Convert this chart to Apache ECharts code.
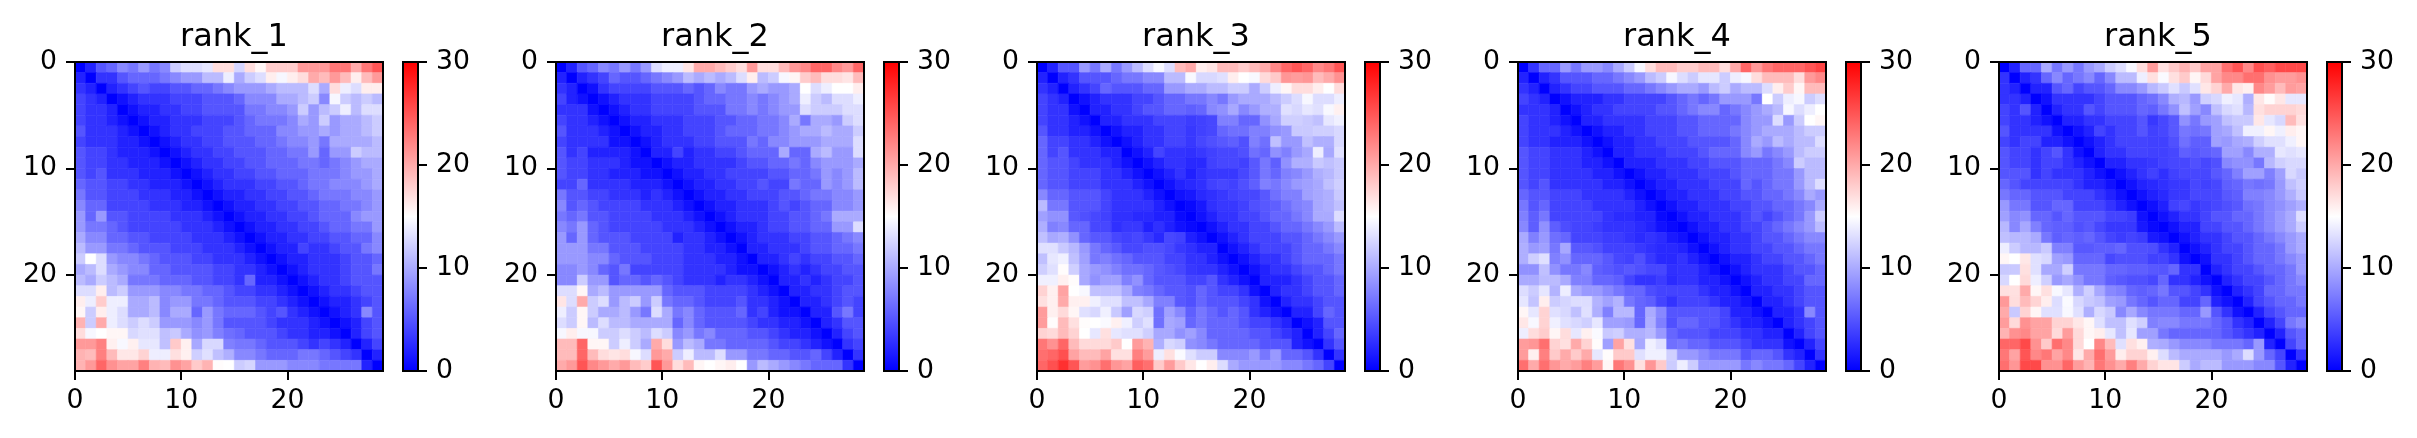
<!DOCTYPE html>
<html>
<head>
<meta charset="utf-8">
<script src="https://cdn.jsdelivr.net/npm/echarts@6/dist/echarts.min.js"></script>
<style>
  html, body { margin: 0; padding: 0; background: #fff; }
  #main { width: 2417px; height: 438px; }
</style>
</head>
<body>
<div id="main"></div>
<script>
// panel titles and ticks
var titles = ['rank_1', 'rank_2', 'rank_3', 'rank_4', 'rank_5'];
var axisTicks = [0, 10, 20];
var barTicks = [0, 10, 20, 30];
var cmin = 0, cmax = 30;
var cmapColors = ['#0000ff', '#ffffff', '#ff0000']; // bwr

// 29 x 29 matrices, row = y (top to bottom), column = x
var rank1 = [
  [0,2,5,6,8,7,9,7,8,12,13,13,13.5,17,17,12.5,17,15.5,18,18,18,21,21,21,23,23,20,23,25],
  [2,0,3,3,5,6,6,6,7,8,9,9,11,11,14,10,12,13,16,14.5,16,17,20,19,21,19,16,19,21],
  [3,2,0,2,3,4,5,4,4,5,5,6,6,7,8,9,9,9,10,11,11,11,13,10,17,14,13,16,16],
  [4,3,2,0,1,2,3,3,3,4,4,4,5,5,5,6,8,8,8,10,10,11,12,8,14.5,12,11,12,11],
  [4,3,3,2,0,1,2,2,3,3,4,4,5,5,5,5,7,7,8,8,9,12,9,11,12,14,11,13,13],
  [4,3,3,2,1,0,1,2,2,3,3,3,4,4,4,5,6,7,7,7,8,10,9,12,9,10,10,11,12],
  [5,3,3,3,2,1,0,1,2,3,3,4,4,4,5,5,6,6,6,8,8,9,9,10,9,10,10,11,12],
  [4,3,3,3,2,2,1,0,1,2,3,3,4,4,5,5,5,6,6,7,8,8,9,7,10,10,10,10,11],
  [5,4,4,3,2,2,2,1,0,1,2,3,3,4,4,5,5,5,6,6,7,7,9,6,9,9,12,11,11],
  [5,4,4,3,3,2,2,2,1,0,1,2,3,3,4,4,5,5,6,6,6,7,7,6,7,8,9,10,10],
  [5,4,5,3,3,3,2,2,2,1,0,1,2,3,3,4,4,5,5,6,6,6,7,7,7,8,9,9,10],
  [6,5,5,4,4,3,3,2,2,2,1,0,1,2,3,3,3,4,4,5,5,6,7,7,8,8,8,9,10],
  [7,5,5,4,4,4,3,3,3,2,2,1,0,1,2,2,3,3,4,4,5,5,6,7,7,7,8,8,9],
  [8,6,6,4,4,4,4,3,3,3,2,2,1,0,1,2,2,3,3,4,4,5,5,6,6,7,7,8,9],
  [9,6,9,5,5,4,4,4,4,3,3,3,2,1,0,1,2,2,3,3,4,4,5,6,6,6,8,9,9],
  [9,7,7,6,5,4,4,4,4,4,3,3,3,2,1,0,1,2,2,3,3,4,4,5,6,6,7,7,9],
  [10,8,8,6,6,5,5,4,4,4,4,3,3,3,2,1,0,1,2,2,3,3,4,4,5,5,6,6,8],
  [11,9,9,7,7,6,5,5,5,4,4,4,3,3,3,2,1,0,1,2,2,4,3,3,4,5,5,7,8],
  [12,15,13,9,8,8,7,6,5,5,5,4,4,3,3,3,2,1,0,1,2,2,3,3,3,4,5,5,6],
  [10,11,13,10,9,8,8,6,6,5,5,5,5,4,4,3,3,2,1,0,1,2,3,3,3,4,5,5,7],
  [11,10,12,11,10,7,7,7,6,6,6,5,5,4,4,3,6,2,2,1,0,1,2,3,3,4,5,5,5],
  [13,13,16,11,12,9,9,9,8,8,7,7,6,6,5,4,4,3,3,2,1,0,1,2,3,3,4,5,5],
  [16,14,18,14,14,10,10,11,8,9,9,7,7,6,5,5,5,4,4,3,2,1,0,1,2,2,3,4,5],
  [15.5,12,16,14,13,10,10,11,8,10,10,6,9,7,6,6,6,5,4,5,3,2,1,0,1,2,3,8,5],
  [19.5,12,20,14,13,12,13,12,9,9,9,8,9,7,5,5,5,5,4,3,3,3,2,1,0,1,2,4,5],
  [17,14.5,15,15.5,15.5,12.7,13.2,13.2,11.3,11.8,10,8.5,9,7.5,6.5,6,5,5,5,4,3,3,2,2,1,0,2,4,5],
  [21,21,22.5,15.9,14.6,15.9,13.6,13.6,11.3,18.1,15.9,9.9,12.7,12.7,7.5,7,7,6,5,5,5,4,3,4,3,2,0,2,4],
  [19.5,19,22.5,19,16.4,16.4,17.6,14,14,16.8,15.9,12.2,13.2,11.3,10.3,8,8,7,6,6,6,7,7,6,5,4,3,0,2],
  [19.5,21,24,21.5,20.4,20.4,22.5,19.5,19,21.5,20.4,18.1,19.5,15.2,15,12,12.5,9,9,9,8,8,8,7,7,7,7,2,0]
];

var rank2 = [
  [0,2,5,6,8,7,9,7,9,13,14,14,16.5,20,20,19,18,17,21,17,17,19,21,22,24,24,22,21,24],
  [2,0,2,3,4,6,5,5,6,7,8,9,11,10,11,10,11,13,16,11,12,14.5,15.5,18,19,17,17,16.5,19],
  [3,2,0,1,3,4,4,4,4,5,5,5,6,5,6,8,7,7,9,10,9,9,10,15,13,14,15,15,16],
  [4,2,1,0,1,2,3,3,3,4,4,4,4,5,6,6,7,7,8,7,8,9,10,14,12,11,13,13,14],
  [3,3,3,1,0,1,2,3,3,4,4,4,4,5,5,5,7,7,8,7,8,9,9,13,12,12,12,13,13],
  [4,3,3,2,1,0,1,2,2,3,3,3,4,4,4,5,5,6,6,7,7,8,10,7,10,10,9,12,13],
  [5,3,3,3,2,1,0,1,2,2,3,3,4,4,4,5,6,6,6,7,7,8,9,10,10,11,10,10,12],
  [4,3,3,3,3,1,1,0,1,2,3,3,3,4,4,5,5,5,7,6,8,8,9,9,9,10,10,10,13],
  [5,3,4,2,2,2,2,1,0,2,2,4,2,3,3,4,4,5,6,6,6,10,6,6,10,11,9,9,13],
  [5,4,4,3,3,3,2,1,1,0,1,2,2,3,3,3,3,4,5,5,6,6,7,6,8,9,9,9,10],
  [5,4,4,3,3,2,2,2,1,1,0,1,2,2,3,3,4,4,4,4,5,5,6,6,7,9,8,9,11],
  [4,4,6,3,3,3,3,2,2,2,1,0,1,2,2,3,3,4,4,5,4,4,7,6,6,9,8,9,11],
  [7,5,5,4,4,3,3,3,2,3,2,1,0,1,2,2,3,3,4,4,4,5,5,6,7,7,8,8,9],
  [8,5,6,5,4,4,4,4,3,3,3,2,1,0,1,2,2,3,3,3,4,5,4,5,6,6,8,8,9],
  [7,6,7,5,5,4,4,4,4,3,3,3,2,1,0,1,2,3,3,3,4,4,5,5,6,7,10,10,10],
  [8,7,9,6,5,4,4,4,4,4,3,3,3,2,1,0,1,2,2,3,4,4,5,5,6,6,9,9,13],
  [9,6,9,6,5,5,5,4,4,4,4,2,3,3,2,1,0,1,2,3,3,3,4,4,5,5,6,7,8],
  [9,9,9,7,7,5,5,5,4,4,4,4,3,3,2,2,1,0,2,2,3,3,3,4,5,5,6,6,7],
  [9,9,9,8,8,6,5,5,5,4,4,4,3,3,3,2,2,1,0,2,2,3,4,3,4,4,5,5,6],
  [8,8,9,8,6,5,7,4,4,4,4,4,3,3,3,3,2,1,1,0,1,2,3,2,3,4,4,5,5],
  [8,8,12,9,9,5,6,6,5,6,5,4,3,3,3,2,3,3,2,1,0,2,2,3,2,3,4,4,5],
  [13,13,15.5,10,11,9,9,9,9,9,6,5,5,5,4,4,4,4,3,2,1,0,2,2,3,3,4,5,5],
  [16.5,13,20,12,13,9,11,12,9,12,7,6,6,5,4,4,4,5,3,3,2,1,0,2,2,3,4,5,4],
  [14,12,15.5,12,10,10,11,9,7,13,10,7,8,6,5,5,5,6,3,4,2,1,1,0,2,2,5,7,4],
  [13,12,15.5,11,13,11,11,10,10,10,10,6,8,6,5,5,5,5,4,3,3,2,2,1,0,2,3,5,5],
  [14.5,16,14.5,14.5,12,12,13,12,11,13,12,8,9,7,8,6,6,6,5,5,4,3,2,2,1,0,2,4,5],
  [19,19,24,15.5,15.5,12,14,12,10,20,17,9,11,10,7,7,6,6,6,6,5,4,4,3,2,1,0,3,4],
  [19,19,24,19,17,16.5,17,14.5,13,21,20,12,14,11,11,13,9,9,7,7,6,6,5,5,6,4,2,0,3],
  [20,21,25,22,21,20,21,19,18,25,21,17,19,15.5,15,15.5,16,15,9,11,10,9,8,7,6,6,6,3,0]
];

var rank3 = [
  [0,2,5,5,9,7,10,7,9,11,13,14.5,13,19,20,16,16.5,19,19,18,19,20,22,24,25,24,22,23,25],
  [2,0,2,3,5,5,5,6,7,7,8,8,11,11,14.6,12.7,12.7,13.2,16,15,14.6,17.2,18.1,21.2,20.8,21.2,19,20,21.5],
  [3,2,0,2,3,4,6,5,5,5,6,6,9,9,10,10,11,11,12,12,10,12,14,15.5,17,17,16,15,17],
  [4,3,2,0,1,2,3,3,3,4,4,5,6,6,7,7,8,7,9,10,10,10,11,12,13,14.5,13,13,14],
  [4,3,3,1,0,2,2,3,3,4,5,5,6,6,5.6,6,8,8.5,9.9,8,9,10.3,10.3,13.2,12.7,13.6,13.2,14.6,15.9],
  [4,3,3,2,1,0,2,2,3,3,3,4,4,4,3.5,3.8,4.2,7.5,7.5,6,6,8.5,9.9,12.2,12.2,11.8,11.3,13.6,14.1],
  [5,3,3,2,2,1,0,1,2,2,3,3,4,4,3.3,3.8,4.2,6,6.6,6.6,7.5,7.5,8.5,9,11.8,11.8,12.2,12.2,12.7],
  [6,4,4,3,3,2,1,0,1,2,3,3,4,4,3.3,4.2,4.7,5.2,5.6,4.7,7.5,6.6,11.3,9,9,11.3,10.3,10.3,12.7],
  [6,4,5,3,3,3,2,2,0,1,2,4,3,3,2.8,3.3,3.8,4.2,4.2,4.7,6.6,6,8.5,7.5,9,9.9,14,9.9,13.2],
  [6,5,5,4,3,3,3,2,1,0,1,2,3,3,2.4,2.4,3.8,4.2,4.2,3.8,5.2,7,5.6,8.5,10.3,10.3,11.8,11.3,11.8],
  [6,5,5,4,4,4,3,3,2,1,0,1,2,3,1.9,2.8,3.3,3.3,3.3,4.2,5.2,7,6,7.5,8,9,10.3,10.8,11.8],
  [6,5,5,4,4,4,3,3,3,2,1,0,1,2,2.4,2.8,3.8,4.2,3.8,4.7,5.6,7.5,7,8,9,9.4,9.9,11.3,12.2],
  [8,6,6,5,5,5,4,3,3,3,2,1,0,1,1.4,2.4,2.8,3.3,3.8,4.2,4.2,5.2,6.6,7.5,7.5,9.4,9.9,10.3,11.8],
  [11,7,7,5,5,5,4,3,3,3,3,2,1,0,0.5,1.4,2.8,3.3,3.3,3.8,4.7,5.2,5.6,6.6,7.5,8,9.9,10.3,11.3],
  [9.4,8.5,8.5,5.2,4.7,4.2,3.8,2.8,2.8,2.4,2.4,1.9,1.9,0.5,0,1,2,3,3,4,4,5,6,6,7,8,10,10,13],
  [10.3,7.5,8,6,6,4.2,4.2,2.8,3.3,3.3,1.9,2.8,1.9,1,0.5,0,1,2,3,3,4,4,5,6,6,7,8,9,11],
  [11.3,9.9,10.3,8.5,6,5.2,5.2,4.2,3.8,4.2,3.3,2.4,4.2,3.8,1.9,1,0,1,2,3,4,4,4,5,5,6,7,8,9],
  [13.2,13.2,11.8,10.8,9,7,6,5.2,4.2,4.2,4.7,4.7,4.2,3.3,2.8,2,2,0,1,2,3,4,4,4,5,6,6,7,8],
  [11.3,13.6,14.1,11.3,9.4,7,7.5,6.6,6,5,5,5,4,4,3,3,2,1,0,1,2,3,3,4,5,6,6,6,7],
  [12.2,13.2,15.2,12.2,9.9,9,8.5,7.5,6.6,6.6,6,5.2,4.7,4.2,3.3,3,3,2,1,0,1,2,3,3,4,5,5,6,7],
  [14.1,14.1,15.9,15.2,9.9,8.5,9.4,9.4,7.5,8.5,6,5,5,5,4,4,5,3,2,1,0,2,2,2,3,4,5,5,6],
  [17.6,15.9,20.4,15,14.6,11.3,11.3,11.3,9.9,7.5,7,6,5.2,5.2,4.7,6,5,4,4,3,1,0,2,3,3,4,5,5,6],
  [16.8,15.9,20,15.9,15.9,14.1,13.2,13.2,11.3,11.3,9.9,7.5,7.5,5.2,4.7,6,5,5,5,4,3,1,0,2,3,3,4,5,5],
  [20.8,15.9,17.2,15.5,13.2,12.7,14.1,11.8,9.4,12.7,12.2,6.6,9.4,8,5.6,7,6,5,6,5,3,2,1,0,2,2,4,6,5],
  [20.8,15.2,19,16.8,15.2,15,14.7,15.9,14.1,12.2,13.2,6.6,9.9,9.4,6,7,6,6,6,5,4,4,3,2,0,1,2,5,5],
  [17.6,17.2,19,17.6,15,13.6,16.8,13.6,13.2,13.2,12.2,9.9,9.9,8.5,9.4,8,6,6,6,6,5,5,4,3,2,0,2,4,6],
  [23,21.5,24,19,17.2,17.2,17.2,18.1,15,20.8,19.5,10.3,12.7,12.2,8.5,8,7,6,6,6,6,5,5,5,2,1,0,3,5],
  [23.5,24,25.3,20.4,19,19,20.4,16.8,16.8,22.5,20.8,14,16.8,14.7,13.2,12,12,8,8,8,9,7,9,6,6,5,3,0,3],
  [24,25.3,27.2,25,20.8,21.5,23.5,21.2,20.4,24.4,23.5,18.1,20.8,18.1,16.4,15,16,13,10,9,9,9,9,8,8,7,6,4,0]
];

var rank4 = [
  [0,3,6,6,9,7,9,9,8,10,12,14.5,17,19,19,18,18,19,19,17,20,24,21,23,24,24,24,25,26],
  [2,0,2,3,5,5,5,6,6,7,8,9,11,12,14.5,13,12,13.5,13.5,12,14,14.5,17,19,19,19,17,21,22],
  [3,2,0,2,3,4,4,5,5,5,6,6,7,8,9,10,10,9,11,12,10,11,11,13,16,18,15.5,19,19],
  [4,3,2,0,1,2,2,2,3,3,4,4,4,4,5,6,7,6,7,9,9,9,7,15,12,14,14.5,12,13],
  [3,3,3,2,0,1,2,3,3,4,4,4,4,5,5,6,7,8,8,6,7,8,9,10,11,14.5,13,14,15],
  [4,3,3,2,1,0,2,2,3,3,3,3,4,4,4,5,5,6,6,6,6,8,9,9,13,9,12,15,15.5],
  [4,3,3,3,2,1,0,1,2,2,3,3,4,4,4,5,5,6,6,6,7,8,9,10,10,10,11,12,12],
  [4,3,3,2,2,2,1,0,1,2,2,3,3,4,4,4,5,5,5,5,6,8,10,9,11,10,11,11,13],
  [5,4,4,3,3,3,2,1,0,2,2,3,3,3,4,4,4,5,6,6,6,8,9,7,8,9,11,12,12],
  [5,4,4,3,3,3,2,2,1,0,2,2,2,3,3,3,4,4,5,5,5,6,6,6,7,8,12,11,11],
  [5,4,4,3,3,3,3,2,2,1,0,1,2,2,3,3,3,4,4,4,5,6,6,6,7,7,9,11,11],
  [5,4,5,3,3,3,3,3,2,2,1,0,1,2,2,3,3,3,4,4,4,6,5,6,7,7,9,11,13],
  [6,5,5,4,4,4,3,3,3,3,2,1,0,1,2,2,3,3,3,4,4,5,5,6,6,7,8,10,9],
  [7,5,6,4,4,4,4,3,3,3,3,2,1,0,1,2,2,3,3,3,4,4,5,5,6,6,7,8,10],
  [7.5,5.5,7,4,4,4,4,4,3,2.5,2.5,2,2,0.5,0,1,2,2,3,3,3,4,5,4,5,6,7,9,12],
  [8,5.5,8.5,5.5,4.5,4,4,3.5,3,3,3,2.5,2,1,0.5,0,1,2,2,3,3,4,4,5,6,7,8,9,11],
  [10,7.5,9,6.5,6,4,4,4,3.5,3.5,3,2.5,3,2.5,1.5,1,0,1,2,2,3,3,4,5,5,6,7,8,8],
  [10.3,9,9.4,7,9.9,5.2,5.2,4.7,3.8,3.8,3.8,3.3,2.8,2.4,2.4,2,1,0,1,2,3,3,4,4,5,5,6,7,7],
  [10.3,12.2,13.2,7.5,8.5,6,6,6,5.2,4.2,3.8,4.7,3.3,2.4,2.4,3,2,1,0,1,2,2,3,4,4,5,5,6,7],
  [8.5,8.5,11.3,8.5,7,7,8,5.6,5.2,4.7,5.2,4.7,4.2,4.2,2.8,3,3,2,1,0,1,2,3,3,3,4,5,5,6],
  [10,10,11,11,10,7.5,7.5,6,6,5.5,4,3,3,3.5,2.5,3,3,2,2,1,0,1,2,3,3,4,4,6,6],
  [13,12,13.5,10.5,14,10,9,9,8,7,6,6,4.5,4,4,4,4,3,2,2,1,0,2,2,3,3,4,5,5],
  [13.5,11.5,16,12,12.5,13,13,10.5,9.5,10.5,7,6,5.5,4,3,4,4,4,3,2,2,1,0,2,2,3,4,5,5],
  [15.5,13.6,17.6,13.2,12.7,11.3,13.2,10.3,7.5,10.8,10.8,6,10,8,5,5,5,5,5,4,2,2,1,0,2,2,3,8,5],
  [16.4,14.6,17.6,14.1,13.2,12.7,12.2,13.6,9.4,9.4,9,6,10.3,7.5,4.7,6,6,5,5,4,3,2,2,1,0,2,3,4,5],
  [14,17,18,15.5,17,13.6,15.9,14.7,11.8,12.2,10.3,10.3,10.8,9,6,5,5,5,4,4,4,3,3,2,2,0,2,4,5],
  [20.8,21.2,23.5,17.6,16.8,20,17.6,15.2,9.4,20.4,16.8,9.9,14.1,13.2,6.6,7,6,6,5,5,5,4,3,3,3,1,0,2,4],
  [20.8,15.9,22.5,18.1,20,18.1,20,13.6,15.2,18.1,18.1,13.2,14.1,14.1,12.2,9,9,8,7,7,7,5,6,6,5,3,2,0,3],
  [23.5,20,23.5,21.2,20,20.8,22.5,20.8,15.5,23,21.5,16.8,21.2,18.1,12,14,12,9,9,9,9,7,8,7,7,6,4,2,0]
];

var rank5 = [
  [0,2,6,6,10,7,9,7,9,10,12,13,14.5,17,20.8,16.8,18.1,19.5,18.1,20.4,20.4,23.5,25,22,25.3,24.4,25.7,25.7,25.7],
  [3,0,2,3,6,8,6,7,8,6,8,11,11,14,16.8,14.7,16.8,18.1,15.5,17.2,20.4,22,22,23.5,23.5,21.5,20.8,20.8,21.5],
  [3,2,0,2,2,5,6,4,5,5,6,8,8,9,10.8,11.8,13.2,11.8,13.2,16.4,17.6,20,16.4,15.9,22,20.8,19,20.8,20.4],
  [3,3,2,0,1,3,3,3,3,4,5,5,5,6,6.6,8,10.3,10.8,9,12.2,12.7,14.1,13.6,10.3,16.4,15.2,16.4,13.6,13.6],
  [4,3,5,2,0,2,3,3,5,4,5,5,5,6,5.6,7,8.5,11.3,9.4,8,11.3,12.7,13.2,10.8,16.8,17.6,17.6,17.6,17.2],
  [4,3,3,2,1,0,2,2,3,3,4,4,4,5,3.3,4.2,5.2,8.5,7,9,9.4,11.3,11.8,11.8,16.4,13.6,12.7,19,16.8],
  [5,3,3,3,3,1,0,1,2,4,3,4,4,5,3.8,4.2,5.2,7,6.6,7,9.4,9.9,11.3,14.1,14.1,15.5,14.1,16,15.5],
  [4,3,4,4,2,2,1,0,1,2,3,4,4,4,3.8,3.8,4.7,6.6,5.6,5.6,9.4,9,9.9,10.3,12.2,13.2,13.2,14.1,15.5],
  [5,4,4,3,4,5,3,1,0,2,3,3,4,4,3.8,3.8,4.2,5.6,5.2,5.6,6,9.4,9.4,8,10.3,10.3,13.6,13.2,13.6],
  [5,4,4,3,4,4,3,2,1,0,2,2,3,3,3.3,3.8,4.2,4.2,4.7,4.2,4.7,8,8.5,8.5,7,10.8,12.2,12.7,12.7],
  [5,5,5,3,4,3,3,3,2,1,0,1,2,3,3.8,2.8,3.8,4.2,4.2,4.2,5.2,6,7.5,9.4,9.4,7.5,9.4,12.7,11.8],
  [6,5,4,4,4,4,4,3,2,2,1,0,1,2,2.4,2.8,3.3,3.3,4.2,3.8,4.2,5.6,6,7,6.6,7,9,11.3,12.2],
  [7,6,6,5,5,5,4,4,4,3,2,1,0,1,1.9,2.4,3.3,3.3,4.2,4.2,4.2,5.2,5.6,7.5,7.5,8,9,10.3,11.8],
  [9,7,7,5,5,6,6,4,4,4,3,2,1,0,0.9,1.9,3.8,4.2,3.3,3.8,4.2,4.7,5.2,6.6,7,8,8.5,9.4,10.3],
  [9.4,8,8.5,6,6,5,6,5,5,5,4,4,3.5,1,0,1,2,3,3,4,5,5,6,6,7,8,9,10,13],
  [10.8,8,9.9,7.5,6,5.6,5.6,4.7,5.2,4.2,3.3,3.3,3.3,1.4,0.5,0,1,2,2,4,4,5,5,6,7,8,9,10,12],
  [11.3,10.8,10.8,10,7,5.5,6,5.5,6,5,4,3.5,4,3.5,1.5,1,0,1,2,3,3,4,5,5,6,7,8,9,10],
  [14,12,10.8,10.8,11.8,7.5,7.5,5.2,5.2,5.5,5.5,6,4.7,4.7,4.5,3,2,0,1,2,3,4,4,5,6,6,7,9,10],
  [15.5,15,16.4,13.2,12.7,9.4,9,6,6,6,4.2,4.7,4.7,4.7,3.8,4,3,1,0,1,3,3,4,5,6,6,7,8,9],
  [11.8,11.8,16.8,13.2,9.9,9.9,12.2,7,7,7,6,6,5.6,5.6,5.2,5,6,3,3,0,2,3,4,4,5,6,6,7,9],
  [12.7,15,17.2,14,12.2,9,9.9,8.5,7,7,5.6,5.2,4.7,4.7,4.2,6,3,3,2,1,0,2,3,4,4,5,6,7,8],
  [16.8,16.8,20,15.5,16.8,14.6,13.6,10.3,12.2,9.9,8,7.5,6,5.6,6,7,5,5,4,3,1,0,2,3,4,6,6,7,7],
  [21,17,19,17.5,16,13,14.7,12.7,11.8,11.3,9.4,9,7,6,5,6,6,4,4,6,2,1,0,2,4,5,6,6,7],
  [20,11.8,17.6,15.5,13.2,13.2,14.6,13.2,10.3,12.7,11.8,8,9.9,8,7,7,7,6,6,9,5,3,1,0,2,4,5,6,6],
  [20.8,17.2,21.5,20.4,20.4,17.6,17.6,16.4,15.5,13.2,11.3,11.3,13.2,12.2,7.5,8,8,7,7,7,6,5,3,2,0,2,4,7,8],
  [19.5,21.5,22,20.4,20.4,17.2,20.8,17.2,15.5,16,13.6,11.3,13.6,9.4,9.4,7,6,6,6,6,6,5,4,3,2,0,2,5,6],
  [24,24,25.7,21.5,18.1,23.5,22,17.2,15,22,19,13.2,16.8,15.9,10.3,10,9,8,8,8,7,7,7,6,9,2,0,4,6],
  [23,20.4,25,22,23,20.4,22,16.4,20,23.5,20.8,16,17.6,17.6,15.9,13,11,10,10,10,10,9,10,13,9,6,4,0,3],
  [23.5,21.2,25.7,25.7,21.5,21.5,24,20.8,19.5,23,21.5,20,22.5,20,17.6,16.5,16.5,12,10,11,11,9,9,9,8,8,5,2,0]
];

var panels = [rank1, rank2, rank3, rank4, rank5];

var dom = document.getElementById('main');
var chart = echarts.init(dom);

var fontFamily = 'DejaVu Sans';
var tickFont = 26.7;
var panelLeft = 75, panelStep = 481, panelTop = 62, panelW = 308, panelH = 309;
var barGap = 328, barW = 15;

var grids = [], xAxes = [], yAxes = [], series = [], titleList = [], heatIdx = [];

function tickAxis(extra) {
    var base = {
        type: 'value',
        axisLine: { show: false, onZero: false },
        splitLine: { show: false },
        axisTick: { show: true, inside: false, length: 9, lineStyle: { color: '#000', width: 2 } },
        axisLabel: { color: '#000', fontSize: tickFont, fontFamily: fontFamily, margin: 18 },
        z: 5
    };
    return echarts.util.merge(base, extra, true);
}

panels.forEach(function (rows, k) {
    var left = panelLeft + panelStep * k;
    var n = rows.length;
    var cells = [];
    for (var i = 0; i < n; i++) {
        for (var j = 0; j < rows[i].length; j++) {
            cells.push([j, i, rows[i][j]]);
        }
    }

    // heatmap grid
    var g = grids.length;
    grids.push({ left: left, top: panelTop, width: panelW, height: panelH,
        show: true, borderColor: '#000', borderWidth: 2, z: 10 });
    xAxes.push(tickAxis({ gridIndex: g, min: 0, max: n, position: 'bottom',
        axisTick: { customValues: axisTicks }, axisLabel: { customValues: axisTicks, margin: 17 } }));
    yAxes.push(tickAxis({ gridIndex: g, min: 0, max: n, inverse: true, position: 'left',
        axisTick: { customValues: axisTicks }, axisLabel: { customValues: axisTicks } }));
    heatIdx.push(series.length);
    series.push({
        type: 'custom',
        xAxisIndex: g,
        yAxisIndex: g,
        data: cells,
        encode: { x: 0, y: 1 },
        z: 1,
        renderItem: function (params, api) {
            var x = api.value(0), y = api.value(1);
            var p0 = api.coord([x, y]);
            var p1 = api.coord([x + 1, y + 1]);
            var c = api.visual('color');
            return {
                type: 'rect',
                shape: {
                    x: Math.min(p0[0], p1[0]),
                    y: Math.min(p0[1], p1[1]),
                    width: Math.abs(p1[0] - p0[0]),
                    height: Math.abs(p1[1] - p0[1])
                },
                style: { fill: c, stroke: c, lineWidth: 0.6 }
            };
        }
    });

    // colorbar grid
    var b = grids.length;
    grids.push({ left: left + barGap, top: panelTop, width: barW, height: panelH,
        show: true, borderColor: '#000', borderWidth: 2, z: 10 });
    xAxes.push({ gridIndex: b, type: 'value', min: 0, max: 1, show: false });
    yAxes.push(tickAxis({ gridIndex: b, min: cmin, max: cmax, interval: 10, position: 'right',
        axisTick: { customValues: barTicks }, axisLabel: { customValues: barTicks, margin: 18 } }));
    series.push({
        type: 'custom',
        xAxisIndex: b,
        yAxisIndex: b,
        data: [[0, cmin, cmax]],
        encode: { x: 0, y: [1, 2] },
        z: 1,
        renderItem: function (params, api) {
            var p0 = api.coord([0, api.value(2)]);
            var p1 = api.coord([1, api.value(1)]);
            return {
                type: 'rect',
                shape: { x: p0[0], y: p0[1], width: p1[0] - p0[0], height: p1[1] - p0[1] },
                style: {
                    fill: new echarts.graphic.LinearGradient(0, 1, 0, 0, [
                        { offset: 0, color: cmapColors[0] },
                        { offset: 0.5, color: cmapColors[1] },
                        { offset: 1, color: cmapColors[2] }
                    ])
                }
            };
        }
    });

    titleList.push({
        text: titles[k],
        left: left + panelW / 2,
        top: 17,
        textAlign: 'center',
        textStyle: { fontSize: 32, fontWeight: 'normal', color: '#000', fontFamily: fontFamily }
    });
});

var option = {
    animation: false,
    backgroundColor: '#fff',
    textStyle: { fontFamily: fontFamily },
    title: titleList,
    grid: grids,
    xAxis: xAxes,
    yAxis: yAxes,
    visualMap: {
        type: 'continuous',
        show: false,
        min: cmin,
        max: cmax,
        dimension: 2,
        seriesIndex: heatIdx,
        inRange: { color: cmapColors }
    },
    series: series
};

chart.setOption(option);
</script>
</body>
</html>
